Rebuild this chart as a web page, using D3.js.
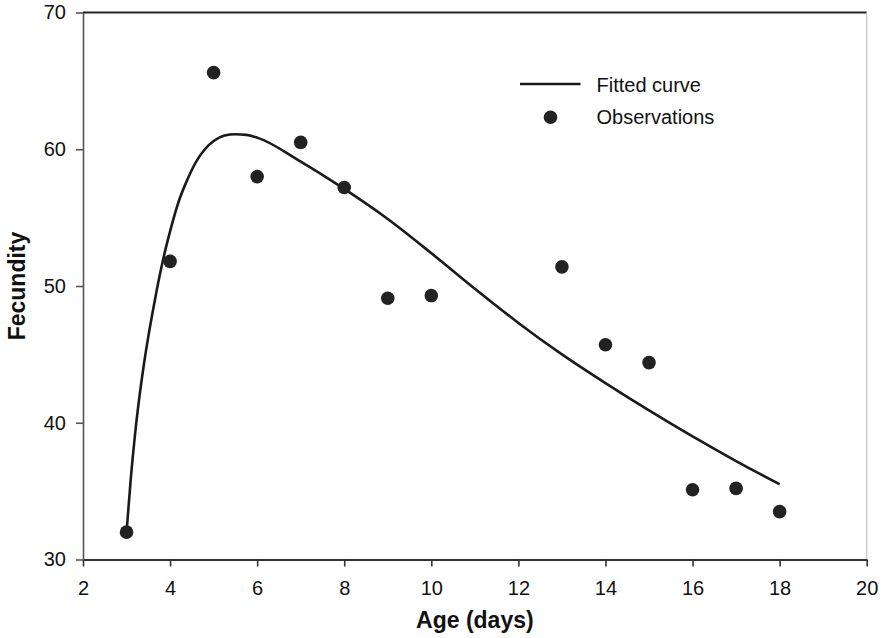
<!DOCTYPE html>
<html>
<head>
<meta charset="utf-8">
<script src="https://cdn.jsdelivr.net/npm/d3@7"></script>
<style>
  html, body { margin: 0; padding: 0; background: #fff; }
  svg { display: block; font-family: "Liberation Sans", Arial, sans-serif; }
  .tick text { font-size: 20px; fill: #111; }
</style>
</head>
<body>
<svg id="chart" width="889" height="638"></svg>
<script>
// observations (age in days, fecundity)
const obsAge = [3, 4, 5, 6, 7, 8, 9, 10, 13, 14, 15, 16, 17, 18];
const obsFecundity = [32.0, 51.8, 65.6, 58.0, 60.5, 57.2, 49.1, 49.3, 51.4, 45.7, 44.4, 35.1, 35.2, 33.5];

// fitted curve
const fitAge = [3.0, 3.1, 3.2, 3.3, 3.4, 3.5, 3.6, 3.7, 3.8, 3.9, 4.0, 4.2, 4.4, 4.6, 4.8, 5.0, 5.25, 5.5, 5.75,
                6, 7, 8, 9, 10, 11, 12, 13, 14, 15, 16, 17, 18];
const fitFecundity = [32.0, 36.0, 39.3, 42.0, 44.3, 46.3, 48.1, 49.8, 51.35, 52.75, 54.0, 56.2, 57.8, 59.1, 60.0, 60.6, 61.0, 61.1, 61.05,
                      60.85, 59.1, 57.1, 54.9, 52.4, 49.8, 47.3, 45.0, 42.9, 40.9, 39.0, 37.2, 35.5];

const xTicks = [2, 4, 6, 8, 10, 12, 14, 16, 18, 20];
const yTicks = [30, 40, 50, 60, 70];

const legendLabels = ['Fitted curve', 'Observations'];

const svg = d3.select('#chart');
const plotLeft = 83, plotRight = 866.7, plotTop = 12.5, plotBottom = 559.5;

const x = d3.scaleLinear().domain([2, 20]).range([plotLeft, plotRight]);
const y = d3.scaleLinear().domain([30, 70]).range([plotBottom, plotTop]);

// frame: top and right edges
svg.append('line')
    .attr('x1', plotLeft).attr('x2', plotRight)
    .attr('y1', plotTop).attr('y2', plotTop)
    .attr('stroke', '#222').attr('stroke-width', 2);
svg.append('line')
    .attr('x1', plotRight).attr('x2', plotRight)
    .attr('y1', plotTop).attr('y2', plotBottom)
    .attr('stroke', '#c4c4c4').attr('stroke-width', 1.2);

// axes
const xAxis = svg.append('g')
    .attr('transform', `translate(0,${plotBottom})`)
    .call(d3.axisBottom(x).tickValues(xTicks).tickSize(7).tickPadding(14).tickSizeOuter(0));
const yAxis = svg.append('g')
    .attr('transform', `translate(${plotLeft},0)`)
    .call(d3.axisLeft(y).tickValues(yTicks).tickSize(7).tickPadding(10).tickSizeOuter(0));

xAxis.select('.domain').attr('stroke', '#333').attr('stroke-width', 1.8);
xAxis.selectAll('.tick line').attr('stroke', '#333').attr('stroke-width', 1.6);
yAxis.select('.domain').attr('stroke', '#555').attr('stroke-width', 1.6);
yAxis.selectAll('.tick line').attr('stroke', '#555').attr('stroke-width', 1.6);
svg.selectAll('g').attr('font-family', null).attr('font-size', null);

// axis titles
svg.append('text')
    .attr('x', (plotLeft + plotRight) / 2).attr('y', 628)
    .attr('text-anchor', 'middle')
    .attr('font-size', 23).attr('font-weight', 'bold').attr('fill', '#111')
    .text('Age (days)');
svg.append('text')
    .attr('transform', `translate(25,${(plotTop + plotBottom) / 2}) rotate(-90)`)
    .attr('text-anchor', 'middle')
    .attr('font-size', 23).attr('font-weight', 'bold').attr('fill', '#111')
    .text('Fecundity');

// fitted curve
const fitData = fitAge.map((a, i) => [a, fitFecundity[i]]);
const line = d3.line()
    .x(d => x(d[0]))
    .y(d => y(d[1]))
    .curve(d3.curveMonotoneX);
svg.append('path')
    .datum(fitData)
    .attr('d', line)
    .attr('fill', 'none')
    .attr('stroke', '#1a1a1a')
    .attr('stroke-width', 2.6);

// observations
svg.append('g').selectAll('circle')
    .data(obsAge.map((a, i) => [a, obsFecundity[i]]))
    .join('circle')
    .attr('cx', d => x(d[0]))
    .attr('cy', d => y(d[1]))
    .attr('r', 6.8)
    .attr('fill', '#222');

// legend
const legend = svg.append('g');
legend.append('line')
    .attr('x1', 520).attr('x2', 580.5)
    .attr('y1', 84).attr('y2', 84)
    .attr('stroke', '#1a1a1a').attr('stroke-width', 2.6);
legend.append('circle')
    .attr('cx', 550.5).attr('cy', 117.3).attr('r', 6.8)
    .attr('fill', '#222');
legend.selectAll('text')
    .data(legendLabels)
    .join('text')
    .attr('x', 596.5)
    .attr('y', (d, i) => 91.5 + i * 32.7)
    .attr('font-size', 20).attr('fill', '#111')
    .text(d => d);
</script>
</body>
</html>
